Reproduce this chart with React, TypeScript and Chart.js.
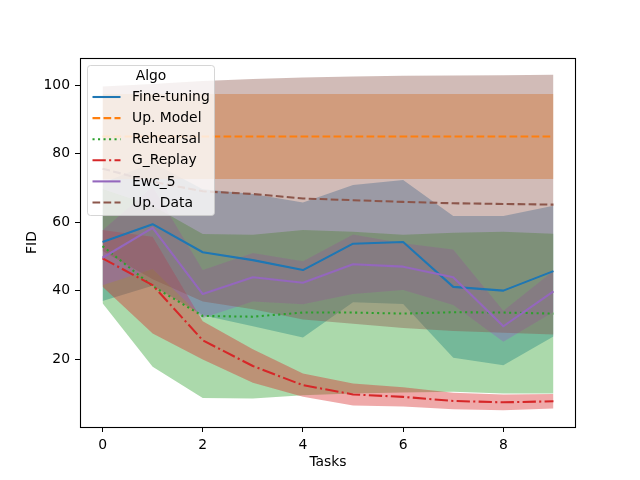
import { useEffect, useRef } from "react";
import { Chart, registerables } from "chart.js";

Chart.register(...registerables);

// x positions (tasks) and axis ticks
const tasks = [0, 1, 2, 3, 4, 5, 6, 7, 8, 9];
const xTicks = [0, 2, 4, 6, 8];
const yTicks = [20, 40, 60, 80, 100];

const seriesNames = ["Fine-tuning", "Up. Model", "Rehearsal", "G_Replay", "Ewc_5", "Up. Data"];

// mean FID per task, and the std used for the shaded band
const fineTuningMean = [54.2, 59.4, 51.2, 48.9, 46.0, 53.7, 54.2, 41.1, 40.0, 45.7];
const fineTuningStd = [17.2, 18.0, 18.4, 19.3, 19.7, 17.1, 18.1, 20.7, 21.8, 19.1];

const upModelMean = [85, 85, 85, 85, 85, 85, 85, 85, 85, 85];
const upModelStd = [12.4, 12.4, 12.4, 12.4, 12.4, 12.4, 12.4, 12.4, 12.4, 12.4];

const rehearsalMean = [53.0, 41.3, 32.6, 32.4, 33.6, 33.6, 33.3, 33.7, 33.6, 33.3];
const rehearsalStd = [16.7, 23.5, 23.9, 23.9, 24.1, 23.6, 23.0, 23.2, 23.6, 23.3];

const gReplayMean = [49.4, 41.6, 25.5, 18.0, 12.4, 9.7, 9.0, 7.8, 7.4, 7.7];
const gReplayStd = [8.3, 14.1, 5.6, 4.9, 3.4, 3.2, 2.8, 2.4, 2.3, 2.1];

const ewcMean = [49.6, 58.3, 39.0, 43.9, 42.3, 47.7, 47.0, 43.9, 29.6, 39.8];
const ewcStd = [8.0, 12.0, 7.0, 7.1, 6.3, 8.7, 6.8, 8.1, 4.5, 6.0];

const upDataMean = [75.6, 71.8, 69.0, 68.2, 66.9, 66.4, 65.9, 65.5, 65.3, 65.1];
const upDataStd = [24.0, 28.5, 32.2, 33.6, 35.3, 36.1, 36.8, 37.3, 37.6, 37.9];

const FONT = "'DejaVu Sans', sans-serif";
const FONT_SIZE = 13.9;
const LW = 2.08; // 1.5pt at 100 dpi

const series = [
  { name: seriesNames[0], mean: fineTuningMean, std: fineTuningStd, color: "#1f77b4", dash: [] as number[] },
  { name: seriesNames[1], mean: upModelMean, std: upModelStd, color: "#ff7f0e", dash: [7.7, 3.3] },
  { name: seriesNames[2], mean: rehearsalMean, std: rehearsalStd, color: "#2ca02c", dash: [2.1, 3.4] },
  { name: seriesNames[3], mean: gReplayMean, std: gReplayStd, color: "#d62728", dash: [13.3, 3.3, 2.1, 3.3] },
  { name: seriesNames[4], mean: ewcMean, std: ewcStd, color: "#9467bd", dash: [] as number[] },
  { name: seriesNames[5], mean: upDataMean, std: upDataStd, color: "#8c564b", dash: [7.7, 3.3] },
];

const rgba = (hex: string, a: number) => {
  const n = parseInt(hex.slice(1), 16);
  return `rgba(${(n >> 16) & 255}, ${(n >> 8) & 255}, ${n & 255}, ${a})`;
};

// spines on all four sides + matplotlib-like legend inside the axes
const framePlugin = {
  id: "frameAndLegend",
  afterDraw(chart: Chart) {
    const { ctx, chartArea } = chart;
    ctx.save();
    ctx.strokeStyle = "#000";
    ctx.lineWidth = 1.1;
    ctx.setLineDash([]);
    ctx.strokeRect(
      Math.round(chartArea.left) + 0.5,
      Math.round(chartArea.top) + 0.5,
      Math.round(chartArea.right - chartArea.left) - 1,
      Math.round(chartArea.bottom - chartArea.top)
    );

    // legend box
    const bx = 87.5, by = 65.5, bw = 127, bh = 150, r = 3;
    ctx.beginPath();
    ctx.moveTo(bx + r, by);
    ctx.lineTo(bx + bw - r, by);
    ctx.quadraticCurveTo(bx + bw, by, bx + bw, by + r);
    ctx.lineTo(bx + bw, by + bh - r);
    ctx.quadraticCurveTo(bx + bw, by + bh, bx + bw - r, by + bh);
    ctx.lineTo(bx + r, by + bh);
    ctx.quadraticCurveTo(bx, by + bh, bx, by + bh - r);
    ctx.lineTo(bx, by + r);
    ctx.quadraticCurveTo(bx, by, bx + r, by);
    ctx.closePath();
    ctx.fillStyle = "rgba(255,255,255,0.8)";
    ctx.fill();
    ctx.strokeStyle = "rgba(204,204,204,0.8)";
    ctx.lineWidth = 1;
    ctx.stroke();

    ctx.font = `${FONT_SIZE}px ${FONT}`;
    ctx.fillStyle = "#000";
    ctx.textBaseline = "middle";
    ctx.textAlign = "center";
    ctx.fillText("Algo", 151, 76.5);
    ctx.textAlign = "left";
    series.forEach((s, i) => {
      const y = 97 + i * 21.1;
      ctx.beginPath();
      ctx.strokeStyle = s.color;
      ctx.lineWidth = LW;
      ctx.setLineDash(s.dash);
      ctx.moveTo(92.5, y);
      ctx.lineTo(120.5, y);
      ctx.stroke();
      ctx.fillStyle = "#000";
      ctx.fillText(s.name, 132, y + 0.5);
    });
    ctx.restore();
  },
};

const FidChart = () => {
  const canvasRef = useRef<HTMLCanvasElement>(null);
  const chartRef = useRef<Chart | null>(null);

  useEffect(() => {
    document.body.style.margin = "0";
    if (!canvasRef.current) return;
    if (chartRef.current) chartRef.current.destroy();

    const datasets: any[] = [];
    series.forEach((s, k) => {
      const lowIdx = datasets.length;
      datasets.push({
        label: s.name + " low",
        data: tasks.map((t, i) => ({ x: t, y: s.mean[i] - s.std[i] })),
        borderColor: "transparent",
        borderWidth: 1,
        pointRadius: 0,
        fill: false,
        order: 100 - k,
      });
      datasets.push({
        label: s.name + " high",
        data: tasks.map((t, i) => ({ x: t, y: s.mean[i] + s.std[i] })),
        borderColor: "transparent",
        borderWidth: 1,
        backgroundColor: rgba(s.color, 0.4),
        pointRadius: 0,
        fill: lowIdx,
        order: 100 - k,
      });
    });
    series.forEach((s, k) => {
      datasets.push({
        label: s.name,
        data: tasks.map((t, i) => ({ x: t, y: s.mean[i] })),
        borderColor: s.color,
        borderWidth: LW,
        borderDash: s.dash,
        borderJoinStyle: "round",
        pointRadius: 0,
        fill: false,
        tension: 0,
        order: 10 - k,
      });
    });

    const tickFont = { family: FONT, size: FONT_SIZE };

    chartRef.current = new Chart(canvasRef.current, {
      type: "line",
      data: { datasets },
      options: {
        responsive: false,
        animation: false,
        layout: { padding: { top: 58, right: 64, left: 0, bottom: 0 } },
        plugins: {
          legend: { display: false },
          tooltip: { enabled: false },
          filler: { drawTime: "beforeDatasetsDraw" },
        },
        scales: {
          x: {
            type: "linear",
            min: -0.45,
            max: 9.45,
            afterBuildTicks: (scale: any) => {
              scale.ticks = xTicks.map((v) => ({ value: v }));
            },
            afterFit: (scale: any) => {
              scale.height = 53;
            },
            grid: {
              display: true,
              drawOnChartArea: false,
              drawTicks: true,
              tickLength: 5,
              tickColor: "#000",
              lineWidth: 1,
            },
            border: { display: false },
            ticks: { color: "#000", font: tickFont, padding: 5, maxRotation: 0 },
            title: {
              display: true,
              text: "Tasks",
              color: "#000",
              font: tickFont,
              padding: { top: 0, bottom: 9 },
            },
          },
          y: {
            type: "linear",
            min: 0.2,
            max: 107.9,
            afterBuildTicks: (scale: any) => {
              scale.ticks = yTicks.map((v) => ({ value: v }));
            },
            afterFit: (scale: any) => {
              scale.width = 80;
            },
            grid: {
              display: true,
              drawOnChartArea: false,
              drawTicks: true,
              tickLength: 5,
              tickColor: "#000",
              lineWidth: 1,
            },
            border: { display: false },
            ticks: { color: "#000", font: tickFont, padding: 5 },
            title: {
              display: true,
              text: "FID",
              color: "#000",
              font: tickFont,
              padding: { top: 24, bottom: 0 },
            },
          },
        },
      },
      plugins: [framePlugin],
    });

    return () => {
      if (chartRef.current) {
        chartRef.current.destroy();
        chartRef.current = null;
      }
    };
  }, []);

  return (
    <div style={{ width: 640, height: 480, background: "#fff" }}>
      <canvas ref={canvasRef} width={640} height={480} style={{ width: 640, height: 480 }} />
    </div>
  );
};

export default function App() {
  return <FidChart />;
}
